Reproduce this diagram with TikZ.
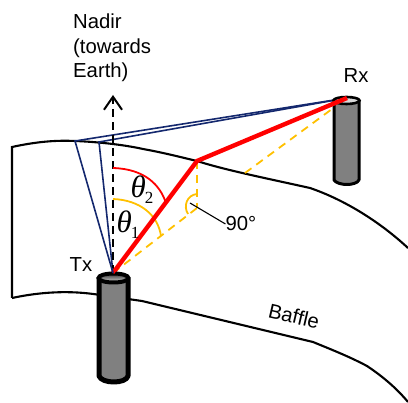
\documentclass[tikz,border=0pt]{standalone}
\usepackage{fontspec}
\setmainfont{Liberation Sans}
\newfontfamily\thetafont{Liberation Serif}
\usetikzlibrary{arrows.meta}
\definecolor{navyray}{RGB}{20,40,110}
\definecolor{ambray}{RGB}{255,192,0}
\newcommand{\thetasub}[1]{{\itshape θ}\kern-1pt\raisebox{-6pt}{\fontsize{17}{17}\selectfont #1}}
\tikzset{
	lbl/.style={inner sep=0pt,font=\fontsize{20.3}{24.5}\selectfont},
	ang/.style={inner sep=0pt,font=\thetafont\fontsize{31}{31}\selectfont},
	baffle/.style={line width=2.1pt},
	ray/.style={navyray,line width=1.6pt},
	hit/.style={red,line width=4.4pt},
	amb/.style={ambray,line width=1.8pt,dashed,dash pattern=on 8pt off 6pt},
	can/.style={fill=black!50,draw=black,line join=round}
}
\begin{document}
\begin{tikzpicture}[x=1pt,y=-1pt]
	\useasboundingbox (0,0) rectangle (408,403);
	\coordinate (tx) at (113,273);
	\coordinate (rx) at (347,98);
	\coordinate (bounce) at (197,161);
	\coordinate (foot) at (197,208);
	\coordinate (rim) at (245,173);
	\coordinate (edgeA) at (75,141);
	\coordinate (edgeB) at (99,142);
	\coordinate (nadir) at (113,95);
	% baffle
	\draw[baffle] (12,298) -- (12,147) .. controls (35,142) and (55,140) .. (75,141)
		.. controls (100,142) and (125,145) .. (143,149)
		.. controls (165,153) and (180,157) .. (bounce)
		.. controls (225,170) and (265,178) .. (310,188)
		.. controls (345,200) and (380,222) .. (408,248);
	\draw[baffle] (12,298) .. controls (40,292) and (70,290) .. (100,295);
	\draw[baffle] (128,299) -- (142,301) -- (313,342)
		.. controls (335,351) and (350,357) .. (367,366)
		.. controls (385,378) and (398,390) .. (408,402);
	% rays
	\draw[ray] (tx) -- (edgeA) -- (rx);
	\draw[ray] (tx) -- (edgeB) -- (rx);
	\draw[amb] (tx) -- (foot);
	\draw[amb] (rim) -- (rx);
	\draw[amb] (bounce) -- (foot);
	\draw[line width=2pt,dashed,dash pattern=on 8pt off 5pt,-{Straight Barb[length=13pt,width=18pt,line width=2pt]}] (tx) -- (nadir);
	% Rx can
	\draw[can,line width=3pt] (334,101) -- (334,180) .. controls (338,186) and (356,186) .. (359,180) -- (359,101);
	\draw[fill=black!15,line width=2.6pt] (346.5,100.5) ellipse (13 and 3.5);
	% angles
	\draw[red,line width=1.8pt] (113,168) .. controls (145,169) and (160,185) .. (166,203);
	\draw[ambray,line width=1.8pt] (113,199) .. controls (140,200) and (158,215) .. (161,236);
	\draw[ambray,line width=1.8pt] (197,194) .. controls (187,195) and (183,206) .. (188,214);
	\draw[hit] (tx) -- (bounce) -- (rx);
	\node[ang] (thA) at (128,225) {\thetasub{1}};
	\node[ang] (thB) at (142,190) {\thetasub{2}};
	\node[lbl] (right) at (241,224) {90°};
	\coordinate (tick) at (190,203);
	\draw[line width=1.1pt] (tick) -- (right.west);
	% Tx can
	\draw[can,line width=5pt] (99,279) -- (99,376) .. controls (102,384) and (126,384) .. (128,376) -- (128,279);
	\shade[top color=black!80,bottom color=black!20] (113.5,277.5) ellipse (14 and 4);
	\draw[line width=4pt] (113.5,278) ellipse (15 and 4.5);
	\draw[hit,line width=3pt] (tx) -- (116,269);
	\draw[ray] (tx) -- (112,268);
	% labels
	\node[lbl,anchor=north west,align=left] (nadirtxt) at (73,14) {Nadir\\(towards\\Earth)};
	\node[lbl] (txt) at (81,265) {Tx};
	\node[lbl] (rxt) at (356,76) {Rx};
	\node[lbl,rotate=-13] (baf) at (294,316) {Baffle};
\end{tikzpicture}
\end{document}
